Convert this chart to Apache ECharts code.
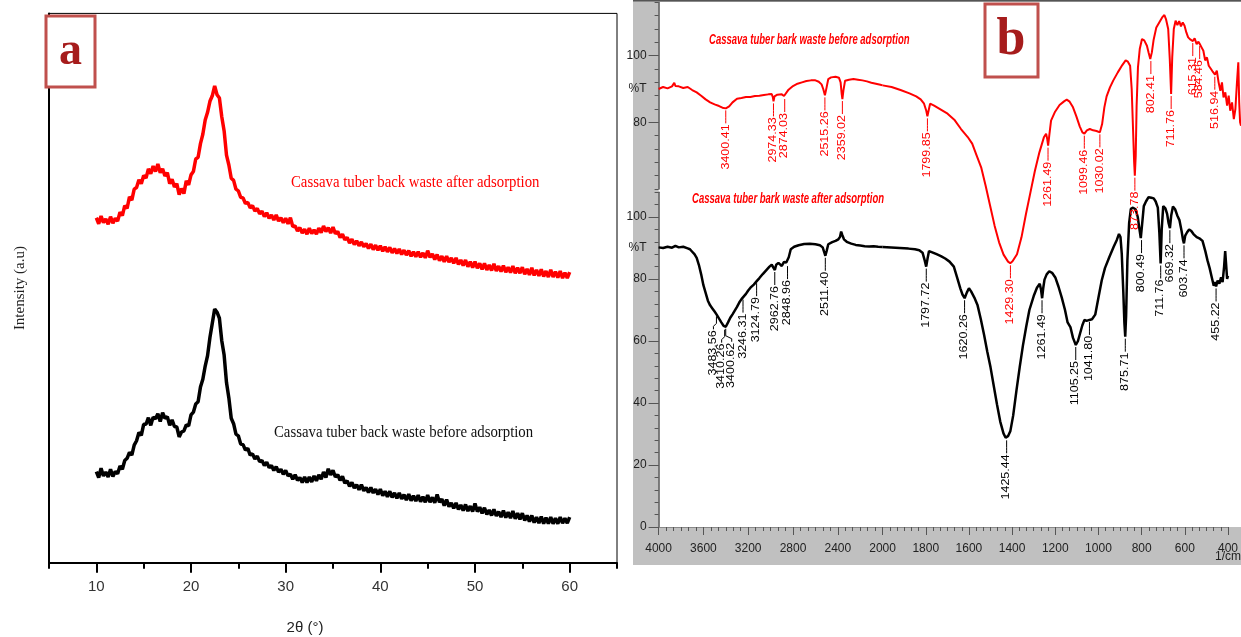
<!DOCTYPE html>
<html>
<head>
<meta charset="utf-8">
<script src="https://cdn.jsdelivr.net/npm/echarts@6/dist/echarts.min.js"></script>
<style>
  html, body { margin: 0; padding: 0; background: #fff; }
  #chart { width: 1241px; height: 637px; }
</style>
</head>
<body>
<div id="chart"></div>
<script>
// ---- panel a : XRD, 2theta (deg) vs intensity (a.u.) ----
const xrdAngle = [10,10.25,10.5,10.75,11,11.25,11.5,11.75,12,12.25,12.5,12.75,13,13.25,13.5,13.75,14,14.25,14.5,14.75,
  15,15.25,15.5,15.75,16,16.25,16.5,16.75,17,17.25,17.5,17.75,18,18.25,18.5,18.75,19,19.25,19.5,19.75,
  20,20.25,20.5,20.75,21,21.25,21.5,21.75,22,22.25,22.5,22.75,23,23.25,23.5,23.75,24,24.25,24.5,24.75,
  25,25.25,25.5,25.75,26,26.25,26.5,26.75,27,27.25,27.5,27.75,28,28.25,28.5,28.75,29,29.25,29.5,29.75,
  30,30.25,30.5,30.75,31,31.25,31.5,31.75,32,32.25,32.5,32.75,33,33.25,33.5,33.75,34,34.25,34.5,34.75,
  35,35.25,35.5,35.75,36,36.25,36.5,36.75,37,37.25,37.5,37.75,38,38.25,38.5,38.75,39,39.25,39.5,39.75,
  40,40.25,40.5,40.75,41,41.25,41.5,41.75,42,42.25,42.5,42.75,43,43.25,43.5,43.75,44,44.25,44.5,44.75,
  45,45.25,45.5,45.75,46,46.25,46.5,46.75,47,47.25,47.5,47.75,48,48.25,48.5,48.75,49,49.25,49.5,49.75,
  50,50.25,50.5,50.75,51,51.25,51.5,51.75,52,52.25,52.5,52.75,53,53.25,53.5,53.75,54,54.25,54.5,54.75,
  55,55.25,55.5,55.75,56,56.25,56.5,56.75,57,57.25,57.5,57.75,58,58.25,58.5,58.75,59,59.25,59.5,59.75,60];
const xrdAfter = [628,617,631,619,626,616,630,618,627,622,638,632,650,645,666,660,680,683,697,690,
  705,700,717,708,722,712,726,710,717,704,710,690,698,684,690,670,681,672,695,688,
  706,712,735,738,763,780,806,820,840,850,868,852,846,812,786,742,724,700,696,680,
  677,665,664,654,656,646,650,640,645,635,640,630,637,627,633,624,633,622,628,619,
  627,617,628,612,613,604,610,600,607,598,609,599,606,598,609,601,613,603,610,600,
  611,599,603,592,598,588,592,582,589,579,586,577,584,575,581,572,580,570,578,569,
  577,567,575,566,574,564,572,563,571,561,569,560,568,558,566,557,566,556,564,555,
  568,556,562,552,561,550,558,548,558,547,555,545,555,543,551,541,551,539,548,537,
  548,536,545,534,545,533,542,532,544,531,540,530,541,529,538,528,540,527,537,527,
  538,525,535,524,537,523,533,522,534,521,531,520,533,520,530,519,531,518,528,518,529];
const xrdBefore = [166,155,172,158,165,156,170,157,166,162,176,170,186,190,201,196,214,222,237,232,
  252,252,264,250,265,262,271,257,273,263,266,250,260,248,247,229,238,240,251,249,
  269,274,289,293,320,334,358,377,410,436,462,456,445,404,378,328,300,263,253,234,
  231,216,215,205,208,196,198,189,194,184,186,177,183,173,177,168,175,165,170,161,
  168,158,161,152,160,150,155,146,156,146,156,147,158,149,160,152,165,155,171,160,
  168,156,160,150,157,145,149,139,146,136,142,133,142,131,137,128,137,127,134,124,
  134,122,130,120,130,119,127,117,127,116,124,114,125,113,122,112,123,111,120,110,
  123,110,119,109,124,110,116,104,115,102,109,99,109,97,105,95,106,94,103,93,
  108,93,101,90,100,88,96,86,97,85,93,83,95,82,92,81,94,80,90,79,
  90,77,86,75,86,73,83,72,84,71,82,71,83,71,81,71,83,72,81,72,83];
const xrdMajorTicks = [10,20,30,40,50,60];

// ---- panel b : FTIR, wavenumber (1/cm) vs %T ----
const ftirBefore = [
  [4000,90.0],[3960,90.6],[3920,90.2],[3880,90.8],[3860,91.9],[3850,90.9],[3820,90.8],[3780,90.3],
  [3740,90.6],[3700,89.7],[3660,89.0],[3620,88.0],[3580,86.9],[3540,86.0],[3500,85.4],[3460,84.9],
  [3430,84.4],[3400,84.2],[3370,84.8],[3340,86.0],[3300,87.1],[3260,87.3],[3220,87.6],[3180,87.6],
  [3140,87.9],[3100,88.0],[3060,88.2],[3020,88.4],[2990,88.5],[2980,87.6],[2974,86.3],[2965,87.8],
  [2940,88.3],[2900,88.4],[2880,87.9],[2874,87.6],[2865,88.5],[2840,89.8],[2800,90.9],[2760,91.6],
  [2720,92.0],[2680,92.4],[2640,92.6],[2600,92.6],[2570,92.2],[2545,91.4],[2530,90.0],[2515,88.1],
  [2500,90.5],[2485,93.0],[2460,93.5],[2420,93.7],[2390,93.4],[2375,92.0],[2365,88.5],[2359,87.0],
  [2350,89.5],[2335,92.5],[2300,92.8],[2260,93.0],[2220,92.8],[2180,92.6],[2140,92.3],[2100,91.9],
  [2060,91.6],[2020,91.3],[2000,91.1],
  [1960,90.6],[1920,89.7],[1880,88.7],[1850,87.8],[1830,86.9],[1815,85.6],[1805,83.5],[1800,81.8],
  [1795,83.4],[1788,85.6],[1770,85.0],[1740,83.8],[1710,82.6],[1680,80.8],[1650,78.0],[1620,75.6],
  [1600,73.6],[1580,70.0],[1560,66.5],[1540,61.0],[1520,55.0],[1500,49.0],[1480,44.0],[1460,40.3],
  [1440,38.2],[1430,37.7],[1420,38.3],[1400,40.4],[1380,45.5],[1360,52.5],[1340,59.0],[1320,65.5],
  [1300,71.0],[1280,75.5],[1270,76.6],[1265,75.0],[1261,73.0],[1256,76.0],[1248,80.5],[1230,83.2],
  [1210,85.2],[1190,86.3],[1178,86.8],[1165,86.2],[1150,84.5],[1135,81.8],[1120,78.8],[1108,77.0],
  [1099,76.6],[1088,77.6],[1075,78.0],[1060,77.6],[1045,77.4],[1030,77.0],[1020,79.5],[1010,84.5],
  [1000,87.8],[985,90.5],[970,92.6],[950,95.0],[930,97.2],[915,98.6],[905,98.2],[895,97.0],
  [888,90.0],[882,78.0],[877,68.0],[874,64.0],[870,70.0],[866,85.0],[860,96.5],[852,102.0],
  [842,105.0],[832,104.6],[820,103.0],[812,100.8],[805,99.0],[798,101.0],[790,104.8],[778,108.5],
  [765,110.0],[752,111.5],[742,112.2],[735,111.0],[725,108.0],[718,99.0],[712,88.5],[707,99.5],
  [700,108.0],[692,110.5],[684,109.2],[676,110.4],[668,108.8],[660,110.0],[652,109.0],[644,107.0],
  [636,105.5],[625,104.8],[615,104.4],[607,105.2],[598,103.5],[590,104.2],[584,103.5],[576,102.5],
  [568,101.5],[560,98.6],[552,99.5],[544,97.0],[536,96.8],[528,95.4],[522,94.8],[516,94.3],
  [508,95.5],[500,92.0],[492,89.5],[485,92.0],[478,87.5],[470,89.0],[462,85.0],[455,88.0],
  [448,83.5],[440,86.0],[432,81.0],[425,84.0],[418,92.0],[412,98.0],[408,86.0],[404,80.0],[400,79.0]
];
const ftirAfter = [
  [4000,90.2],[3960,90.0],[3920,90.4],[3880,90.1],[3850,90.7],[3820,90.2],[3780,90.4],[3740,89.9],
  [3720,89.6],[3700,88.8],[3680,88.0],[3660,86.8],[3640,84.5],[3620,81.5],[3600,78.0],[3580,75.5],
  [3560,73.0],[3540,71.5],[3520,70.5],[3500,69.5],[3483,68.6],[3460,67.2],[3440,66.0],[3420,64.9],
  [3410,64.3],[3400,64.6],[3380,66.0],[3360,67.5],[3340,68.6],[3320,69.8],[3300,71.0],[3280,72.4],
  [3260,73.5],[3246,74.0],[3220,75.2],[3200,76.3],[3180,77.2],[3150,78.2],[3124,79.3],[3100,80.3],
  [3070,81.6],[3040,82.8],[3010,84.0],[2990,84.6],[2975,84.0],[2962,82.9],[2950,84.6],[2930,85.2],
  [2900,84.2],[2880,85.5],[2860,85.3],[2849,84.8],[2838,87.0],[2820,89.6],[2790,90.4],[2750,90.9],
  [2700,91.3],[2650,91.4],[2600,91.2],[2560,90.9],[2535,90.2],[2520,88.5],[2511,87.5],[2500,89.0],
  [2485,91.2],[2450,91.9],[2420,92.3],[2395,92.8],[2380,93.6],[2370,95.3],[2360,94.2],[2345,92.8],
  [2320,92.0],[2280,91.4],[2240,91.0],[2200,90.8],[2160,90.6],[2120,90.5],[2080,90.6],[2040,90.4],
  [2000,90.3],
  [1960,90.2],[1920,90.0],[1880,89.8],[1850,89.6],[1830,89.3],[1815,88.5],[1805,86.0],[1798,84.0],
  [1792,86.5],[1785,89.0],[1770,88.6],[1750,88.0],[1730,87.4],[1710,86.6],[1690,85.6],[1670,84.0],
  [1655,80.5],[1640,77.0],[1630,75.0],[1620,73.8],[1610,75.6],[1600,77.0],[1590,76.0],[1575,74.0],
  [1560,71.5],[1545,67.0],[1530,62.0],[1515,56.5],[1500,51.5],[1485,45.5],[1470,39.5],[1455,34.0],
  [1440,30.2],[1430,28.8],[1425,28.6],[1418,29.4],[1408,31.0],[1395,36.0],[1380,44.0],[1365,51.5],
  [1350,58.5],[1335,64.5],[1320,70.0],[1300,74.5],[1285,77.2],[1272,78.5],[1266,76.5],[1261,73.8],
  [1256,77.0],[1250,79.8],[1240,81.5],[1228,82.5],[1215,82.0],[1200,80.5],[1185,77.5],[1170,74.0],
  [1155,70.0],[1143,66.0],[1130,64.5],[1118,61.0],[1105,58.7],[1095,60.0],[1085,62.5],[1075,65.0],
  [1065,66.8],[1055,66.5],[1042,66.8],[1030,67.0],[1015,68.5],[1000,74.0],[985,79.5],[970,83.5],
  [950,87.0],[930,90.3],[915,92.6],[905,94.5],[898,93.5],[892,88.0],[885,76.0],[880,66.0],
  [876,61.4],[872,68.0],[866,86.0],[858,98.0],[850,102.6],[840,103.0],[828,102.5],[818,100.0],
  [810,96.0],[804,93.2],[798,97.5],[790,103.5],[780,105.0],[768,106.4],[755,106.2],[744,106.0],
  [735,105.0],[725,103.0],[718,95.0],[712,85.0],[707,96.0],[700,103.5],[690,102.8],[682,101.0],
  [675,98.0],[669,96.4],[663,100.5],[655,103.4],[645,102.5],[635,100.5],[625,99.0],[615,95.5],
  [608,92.5],[604,91.5],[598,94.0],[590,95.0],[580,96.0],[570,95.5],[560,94.5],[545,93.5],
  [530,93.0],[518,92.3],[505,89.0],[495,86.0],[485,83.5],[475,80.5],[466,77.8],[460,79.0],
  [455,77.6],[448,79.5],[440,78.5],[432,80.5],[425,79.0],[418,84.0],[413,89.0],[408,84.0],
  [404,80.0],[400,81.0]
];
// peak labels (wavenumber) and the %T where each leader line starts
const beforePeakWn = [3400.41,2974.33,2874.03,2515.26,2359.02,1799.85,1429.30,1261.49,1099.46,1030.02,873.78,802.41,711.76,615.31,584.46,516.94];
const beforePeakT  = [84.2,86.3,87.6,88.1,87.0,81.8,37.7,73.0,76.6,77.0,64.0,99.0,88.5,104.4,103.5,94.3];
const afterPeakWn  = [3483.56,3410.26,3400.62,3246.31,3124.79,2962.76,2848.96,2511.40,1797.72,1620.26,1425.44,1261.49,1105.25,1041.80,875.71,800.49,711.76,669.32,603.74,455.22];
const afterPeakT   = [68.6,64.3,64.6,74.0,79.3,82.9,84.8,87.5,84.0,73.8,28.6,73.8,58.7,66.8,61.4,93.2,85.0,96.4,91.5,77.6];

// axis ticks of panel b
const bLeftLabels = [4000,3600,3200,2800,2400];
const bLeftMajor = [4000,3600,3200,2800,2400,2000];
const bRightLabels = [2000,1800,1600,1400,1200,1000,800,600,400];
const upperLabels = [80,90,100];
const upperMajor = [80,100];
const lowerLabels = [0,20,40,60,80,90,100];
const lowerMajor = [0,20,40,60,80,100];

// ---------------------------------------------------------------
function steps(lo, hi, step) {
  const out = [];
  for (let v = lo; v <= hi + 1e-6; v += step) out.push(+v.toFixed(3));
  return out;
}
function part(arr, lo, hi) {
  return arr.filter(p => p[0] >= lo && p[0] <= hi);
}
function peaks(wns, ts, lo, hi) {
  const out = [];
  wns.forEach((w, i) => { if (w >= lo && w <= hi) out.push([w, ts[i]]); });
  return out;
}

const NARROW = '"Liberation Sans Narrow", "Liberation Sans", Arial, sans-serif';
const SERIF = '"Liberation Serif", "Times New Roman", serif';
const labelShift = { '3483.56': -3, '3410.26': -3, '3400.62': 6 };

function peakRenderer(color) {
  return function (params, api) {
    const wn = api.value(0);
    const p = api.coord([wn, api.value(1)]);
    const txt = wn.toFixed(2);
    const dx = labelShift[txt] || 0;
    return {
      type: 'group',
      children: [
        {
          type: 'polyline',
          shape: { points: [[p[0], p[1] + 2], [p[0], p[1] + 9], [p[0] + dx, p[1] + 12], [p[0] + dx, p[1] + 15]] },
          style: { stroke: color, lineWidth: 1, fill: null }
        },
        {
          type: 'text',
          x: p[0] + dx, y: p[1] + 16,
          rotation: Math.PI / 2,
          scaleX: 1.25,
          style: {
            text: txt, fill: color, fontSize: 10, fontFamily: '"Liberation Sans", Arial, sans-serif',
            align: 'right', verticalAlign: 'middle'
          }
        }
      ]
    };
  };
}

const bAxisColor = '#555';
const bLabelStyle = { color: '#222', fontSize: 12, fontFamily: NARROW, formatter: v => String(v) };

function majorX(grid, min, max, values, len, color, width, inverse) {
  return {
    type: 'value', gridIndex: grid, min: min, max: max, inverse: !!inverse, position: 'bottom',
    axisLine: { show: false },
    axisTick: { length: len, customValues: values, lineStyle: { color: color, width: width } },
    axisLabel: { show: false }, splitLine: { show: false }
  };
}
function majorY(grid, min, max, values) {
  return {
    type: 'value', gridIndex: grid, min: min, max: max, position: 'left',
    axisLine: { show: false },
    axisTick: { length: 10, customValues: values, lineStyle: { color: bAxisColor } },
    axisLabel: { show: false }, splitLine: { show: false }
  };
}

const option = {
  backgroundColor: '#fff',
  animation: false,
  grid: [
    { left: 49, top: 13.4, width: 568, height: 549.3, show: true, borderColor: '#000', borderWidth: 1 },
    { left: 658.6, top: 2.4, width: 224, height: 186.6 },
    { left: 882.6, top: 2.4, width: 358.4, height: 186.6 },
    { left: 658.6, top: 192.2, width: 224, height: 334.8 },
    { left: 882.6, top: 192.2, width: 358.4, height: 334.8 }
  ],
  xAxis: [
    { // 0 panel a
      type: 'value', gridIndex: 0, min: 5, max: 65, interval: 5, position: 'bottom',
      axisLine: { lineStyle: { color: '#000', width: 2 } },
      axisTick: { length: 6, lineStyle: { color: '#000', width: 2 } },
      axisLabel: { margin: 17, color: '#333', fontSize: 15, fontFamily: NARROW,
        formatter: v => (xrdMajorTicks.indexOf(v) >= 0 ? String(v) : '') },
      splitLine: { show: false }
    },
    majorX(0, 5, 65, xrdMajorTicks, 10, '#000', 2, false),                              // 1
    { type: 'value', gridIndex: 1, min: 2000, max: 4000, inverse: true, show: false },  // 2
    { type: 'value', gridIndex: 2, min: 400, max: 2000, inverse: true, show: false },   // 3
    { // 4 lower-left bottom axis
      type: 'value', gridIndex: 3, min: 2000, max: 4000, inverse: true, position: 'bottom',
      axisLine: { lineStyle: { color: '#888', width: 1 } },
      axisTick: { length: 4, customValues: steps(2000, 4000, 400 / 6), lineStyle: { color: bAxisColor } },
      axisLabel: Object.assign({ customValues: bLeftLabels, margin: 16 }, bLabelStyle),
      splitLine: { show: false }
    },
    majorX(3, 2000, 4000, bLeftMajor, 8, bAxisColor, 1, true),                         // 5
    { // 6 lower-right bottom axis
      type: 'value', gridIndex: 4, min: 400, max: 2000, inverse: true, position: 'bottom',
      axisLine: { lineStyle: { color: '#888', width: 1 } },
      axisTick: { length: 4, customValues: steps(400, 2000, 200 / 6), lineStyle: { color: bAxisColor } },
      axisLabel: Object.assign({ customValues: bRightLabels, margin: 16 }, bLabelStyle),
      splitLine: { show: false }
    },
    majorX(4, 400, 2000, bRightLabels, 8, bAxisColor, 1, true)                         // 7
  ],
  yAxis: [
    { // 0 panel a
      type: 'value', gridIndex: 0, min: 0, max: 1000, position: 'left',
      axisLine: { show: true, lineStyle: { color: '#000', width: 2 } },
      axisTick: { show: false }, axisLabel: { show: false }, splitLine: { show: false },
      name: 'Intensity (a.u)', nameLocation: 'middle', nameGap: 21, nameRotate: 90,
      nameTextStyle: { color: '#222', fontSize: 15, fontFamily: SERIF }
    },
    { // 1 upper-left
      type: 'value', gridIndex: 1, min: 60, max: 116, position: 'left',
      axisLine: { show: true, lineStyle: { color: bAxisColor, width: 1.5 } },
      axisTick: { length: 4, customValues: steps(60, 116, 4), lineStyle: { color: bAxisColor } },
      axisLabel: Object.assign({}, bLabelStyle, { customValues: upperLabels, margin: 12,
        formatter: v => (v === 90 ? '%T' : String(v)) }),
      splitLine: { show: false }
    },
    majorY(1, 60, 116, upperMajor),                                  // 2
    { type: 'value', gridIndex: 2, min: 60, max: 116, show: false }, // 3
    { // 4 lower-left
      type: 'value', gridIndex: 3, min: 0, max: 108, position: 'left',
      axisLine: { show: true, lineStyle: { color: bAxisColor, width: 1.5 } },
      axisTick: { length: 4, customValues: steps(0, 108, 4), lineStyle: { color: bAxisColor } },
      axisLabel: Object.assign({}, bLabelStyle, { customValues: lowerLabels, margin: 12,
        formatter: v => (v === 90 ? '%T' : String(v)) }),
      splitLine: { show: false }
    },
    majorY(3, 0, 108, lowerMajor),                                   // 5
    { type: 'value', gridIndex: 4, min: 0, max: 108, show: false }   // 6
  ],
  series: [
    { type: 'line', xAxisIndex: 0, yAxisIndex: 0, showSymbol: false,
      data: xrdAngle.map((a, i) => [a, xrdAfter[i]]), lineStyle: { color: '#ff0000', width: 3.5 } },
    { type: 'line', xAxisIndex: 0, yAxisIndex: 0, showSymbol: false,
      data: xrdAngle.map((a, i) => [a, xrdBefore[i]]), lineStyle: { color: '#000', width: 3.5 } },

    { type: 'line', xAxisIndex: 2, yAxisIndex: 1, showSymbol: false, clip: false,
      data: part(ftirBefore, 2000, 4000), lineStyle: { color: '#ff0000', width: 2 } },
    { type: 'line', xAxisIndex: 3, yAxisIndex: 3, showSymbol: false, clip: false,
      data: part(ftirBefore, 400, 2000), lineStyle: { color: '#ff0000', width: 2 } },
    { type: 'line', xAxisIndex: 4, yAxisIndex: 4, showSymbol: false, clip: false,
      data: part(ftirAfter, 2000, 4000), lineStyle: { color: '#000', width: 2.5 } },
    { type: 'line', xAxisIndex: 6, yAxisIndex: 6, showSymbol: false, clip: false,
      data: part(ftirAfter, 400, 2000), lineStyle: { color: '#000', width: 2.5 } },

    { type: 'custom', xAxisIndex: 2, yAxisIndex: 1, renderItem: peakRenderer('#ff0000'),
      data: peaks(beforePeakWn, beforePeakT, 2000, 4000), z: 5 },
    { type: 'custom', xAxisIndex: 3, yAxisIndex: 3, renderItem: peakRenderer('#ff0000'),
      data: peaks(beforePeakWn, beforePeakT, 400, 2000), z: 5 },
    { type: 'custom', xAxisIndex: 4, yAxisIndex: 4, renderItem: peakRenderer('#000'),
      data: peaks(afterPeakWn, afterPeakT, 2000, 4000), z: 5 },
    { type: 'custom', xAxisIndex: 6, yAxisIndex: 6, renderItem: peakRenderer('#000'),
      data: peaks(afterPeakWn, afterPeakT, 400, 2000), z: 5 }
  ],
  graphic: [
    // panel b background
    { type: 'rect', z: -10, shape: { x: 633, y: 0, width: 608, height: 565 }, style: { fill: '#c0c0c0' } },
    { type: 'rect', z: -9, shape: { x: 658.6, y: 2, width: 583, height: 525 }, style: { fill: '#fff' } },
    { type: 'rect', z: -8, shape: { x: 633, y: 0, width: 608, height: 1.5 }, style: { fill: '#555' } },

    // panel a texts
    { type: 'text', z: 50, x: 291, y: 183, scaleX: 0.87,
      style: { text: 'Cassava tuber back waste after adsorption', fill: '#ff0000', fontSize: 17,
        fontFamily: SERIF, verticalAlign: 'middle' } },
    { type: 'text', z: 50, x: 274, y: 433, scaleX: 0.87,
      style: { text: 'Cassava tuber back waste before adsorption', fill: '#111', fontSize: 17,
        fontFamily: SERIF, verticalAlign: 'middle' } },
    { type: 'text', z: 50, x: 305, y: 628,
      style: { text: '2θ (°)', fill: '#222', fontSize: 15, fontFamily: NARROW, align: 'center', verticalAlign: 'middle' } },

    // panel b texts
    { type: 'text', z: 50, x: 709, y: 40, scaleX: 0.68,
      style: { text: 'Cassava tuber bark waste before adsorption', fill: '#ff0000', fontSize: 14,
        fontStyle: 'italic', fontWeight: 'bold', fontFamily: NARROW, verticalAlign: 'middle' } },
    { type: 'text', z: 50, x: 692, y: 199, scaleX: 0.68,
      style: { text: 'Cassava tuber bark waste after adsorption', fill: '#ff0000', fontSize: 14,
        fontStyle: 'italic', fontWeight: 'bold', fontFamily: NARROW, verticalAlign: 'middle' } },
    { type: 'text', z: 50, x: 1241, y: 557,
      style: { text: '1/cm', fill: '#222', fontSize: 12, fontFamily: NARROW, align: 'right', verticalAlign: 'middle' } },

    // panel letters
    { type: 'rect', z: 60, shape: { x: 46, y: 16, width: 49, height: 71 },
      style: { fill: '#fff', stroke: '#c0504d', lineWidth: 3 } },
    { type: 'text', z: 61, x: 70.5, y: 52,
      style: { text: 'a', fill: '#a61c1c', fontSize: 46, fontWeight: 'bold',
        fontFamily: SERIF, align: 'center', verticalAlign: 'middle',
        shadowColor: 'rgba(0,0,0,0.35)', shadowBlur: 3, shadowOffsetY: 3 } },
    { type: 'rect', z: 60, shape: { x: 985, y: 4, width: 53, height: 73 },
      style: { fill: '#fff', stroke: '#c0504d', lineWidth: 3 } },
    { type: 'text', z: 61, x: 1011, y: 41,
      style: { text: 'b', fill: '#a61c1c', fontSize: 52, fontWeight: 'bold',
        fontFamily: SERIF, align: 'center', verticalAlign: 'middle',
        shadowColor: 'rgba(0,0,0,0.35)', shadowBlur: 3, shadowOffsetY: 3 } }
  ]
};

const chart = echarts.init(document.getElementById('chart'));
chart.setOption(option);
</script>
</body>
</html>
